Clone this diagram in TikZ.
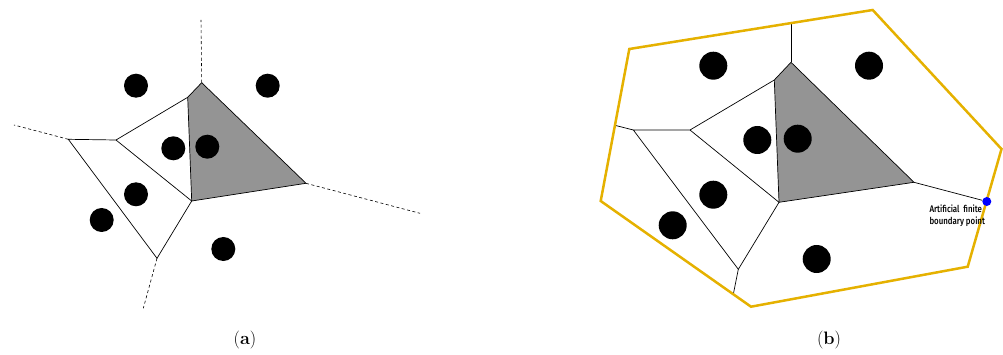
\documentclass[tikz,border=0pt]{standalone}
\usepackage{fontspec}
\newfontfamily\labfont[FakeStretch=0.82]{Fira Sans Medium}
\definecolor{cellgrey}{RGB}{148,148,148}
\definecolor{boundyel}{RGB}{229,177,0}
\definecolor{ptblue}{RGB}{0,0,255}
\begin{document}
\begin{tikzpicture}[x=1pt,y=-1pt,
  edge/.style={black,line width=0.7pt},
  ray/.style={black,line width=0.6pt,dash pattern=on 3pt off 2.5pt},
  site/.style={circle,fill=black,inner sep=0pt,minimum size=24pt},
  siteb/.style={circle,fill=black,inner sep=0pt,minimum size=28pt},
  hull/.style={boundyel,line width=2.5pt,line join=miter},
  captxt/.style={inner sep=0pt,font=\fontsize{18}{21}\selectfont}]
\useasboundingbox (0,0) rectangle (1003,355);
% ---------- panel (a) ----------
\coordinate (aT) at (201.7,82.7);
\coordinate (aU) at (187.7,97.3);
\coordinate (aR) at (306,183.3);
\coordinate (aB) at (191.7,201);
\coordinate (aM) at (116,140);
\coordinate (aL) at (68.3,139.3);
\coordinate (aD) at (157,258.3);
\coordinate (aTe) at (201,20);
\coordinate (aLe) at (14,125);
\coordinate (aRe) at (420,213.3);
\coordinate (aDe) at (143.3,308.3);
\fill[cellgrey] (aT) -- (aU) -- (aB) -- (aR) -- cycle;
\draw[edge] (aT) -- (aR) -- (aB);
\draw[edge] (aT) -- (aU) -- (aB);
\draw[edge] (aU) -- (aM) -- (aL) -- (aD) -- (aB);
\draw[edge] (aM) -- (aB);
\draw[ray] (aT) -- (aTe);
\draw[ray] (aL) -- (aLe);
\draw[ray] (aR) -- (aRe);
\draw[ray] (aD) -- (aDe);
\node[site] (a1) at (136,85.7) {};
\node[site] (a2) at (267.7,85.7) {};
\node[site] (a3) at (173.3,148.3) {};
\node[site] (a4) at (207.3,146.7) {};
\node[site] (a5) at (136,194.3) {};
\node[site] (a6) at (101.7,220) {};
\node[site] (a7) at (223.3,249) {};
\node[captxt] (capa) at (245,340) {(\textbf{a})};
% ---------- panel (b) ----------
\coordinate (h1) at (629.3,49);
\coordinate (h2) at (872.7,10);
\coordinate (h3) at (1001.5,149);
\coordinate (h4) at (967.7,266.7);
\coordinate (h5) at (751,306.7);
\coordinate (h6) at (600.7,201);
\coordinate (bT) at (791,62.3);
\coordinate (bU) at (774.3,80);
\coordinate (bR) at (914,182.3);
\coordinate (bB) at (779,202.3);
\coordinate (bM) at (690,130);
\coordinate (bL) at (633.3,130);
\coordinate (bD) at (738.3,269.3);
\coordinate (bTe) at (791,23.1);
\coordinate (bLe) at (614.9,125.3);
\coordinate (bDe) at (733.3,294.3);
\fill[cellgrey] (bT) -- (bU) -- (bB) -- (bR) -- cycle;
\draw[edge] (bT) -- (bR) -- (bB);
\draw[edge] (bT) -- (bU) -- (bB);
\draw[edge] (bU) -- (bM) -- (bL) -- (bD) -- (bB);
\draw[edge] (bM) -- (bB);
\draw[edge] (bT) -- (bTe);
\draw[edge] (bL) -- (bLe);
\draw[edge] (bD) -- (bDe);
\draw[hull] (h1) -- (h2) -- (h3) -- (h4) -- (h5) -- (h6) -- cycle;
\node[circle,fill=ptblue,inner sep=0pt,minimum size=9pt] (bP) at (986.8,201.5) {};
\draw[edge] (bR) -- (bP);
\node[siteb] (b1) at (713.3,65.7) {};
\node[siteb] (b2) at (869,65.7) {};
\node[siteb] (b3) at (757.3,140) {};
\node[siteb] (b4) at (797.7,138.7) {};
\node[siteb] (b5) at (713.3,194.7) {};
\node[siteb] (b6) at (672.7,225.3) {};
\node[siteb] (b7) at (816.7,259) {};
\node[anchor=north west,align=left,inner sep=0pt,font=\labfont\fontsize{9.6}{12.6}\selectfont] (blab) at (929.3,204.5) {Artificial\ \ finite\\boundary point};
\node[captxt] (capb) at (829,340) {(\textbf{b})};
\end{tikzpicture}
\end{document}
